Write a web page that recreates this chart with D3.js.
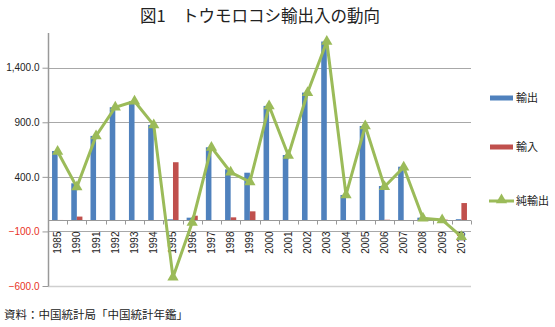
<!DOCTYPE html>
<html><head><meta charset="utf-8">
<script src="https://cdn.jsdelivr.net/npm/d3@7"></script>
<style>
html,body{margin:0;padding:0;background:#fff;}
svg{display:block;}
</style></head>
<body>
<svg id="chart" width="555" height="327"></svg>
<script>
const categories = ["1985","1990","1991","1992","1993","1994","1995","1996","1997","1998","1999","2000","2001","2002","2003","2004","2005","2006","2007","2008","2009","2010"];
const exportsData = [637, 341, 775, 1038, 1093, 876, 11, 26, 671, 469, 438, 1050, 600, 1172, 1640, 234, 866, 316, 493, 26, 13, 12];
const importsData = [5, 36, 1, 0, 1, 1, 534, 44, 1, 29, 84, 1, 4, 1, 0, 0, 0, 7, 4, 5, 8, 160];
const netExports = [632, 306, 774, 1038, 1093, 875, -520, -18, 670, 442, 354, 1049, 596, 1171, 1640, 234, 866, 309, 489, 21, 5, -148];
const yTicks = [-600, -100, 400, 900, 1400];
const seriesNames = ["輸出", "輸入", "純輸出"];
const colors = ["#4F81BD", "#C0504D", "#9BBB59"];
const titleText = "図1　トウモロコシ輸出入の動向";
const sourceText = "資料：中国統計局「中国統計年鑑」";

(function () {
const svg = d3.select("#chart");
const jp = "'Noto Sans CJK JP', sans-serif";
const num = "'Liberation Sans', Arial, sans-serif";

const pl = 48, pr = 471, pt = 33, pb = 286;
const y = d3.scaleLinear().domain([-600, 1718]).range([pb, pt]);
const x = d3.scaleBand().domain(categories).range([pl, pr]).padding(0);
const bw = x.bandwidth();
const xi = d3.scaleBand().domain([0, 1]).range([bw * 0.21, bw * 0.79]).padding(0);

// title
svg.append("text").attr("x", 260).attr("y", 22).attr("text-anchor", "middle")
  .attr("font-family", jp).attr("font-size", 16.5).attr("fill", "#222").text(titleText);

// gridlines
svg.append("g").selectAll("line").data(yTicks).join("line")
  .attr("x1", pl).attr("x2", pr)
  .attr("y1", d => Math.round(y(d)) + 0.5).attr("y2", d => Math.round(y(d)) + 0.5)
  .attr("stroke", d => d === -600 ? "#cfcfcf" : "#a8a8a8")
  .attr("stroke-width", d => d === -600 ? 1.6 : 1);

// y axis
const yAxis = d3.axisLeft(y).tickValues(yTicks).tickSize(6).tickPadding(3)
  .tickFormat(d => d3.format(",.1f")(d));
const gy = svg.append("g").attr("transform", `translate(${pl + 0.5},0)`).call(yAxis);
gy.select(".domain").attr("stroke", "#999").attr("stroke-width", 1.5).attr("d", `M0,${pt}V${pb}`);
gy.selectAll(".tick line").attr("stroke", "#999");
gy.selectAll(".tick text").attr("font-family", num).attr("font-size", 10)
  .attr("fill", d => d < 0 ? "#e8321e" : "#222");

// bars
const bars = svg.append("g");
const bar = (data, i) => bars.append("g").selectAll("rect").data(data).join("rect")
  .attr("x", (d, j) => x(categories[j]) + xi(i))
  .attr("width", xi.bandwidth())
  .attr("y", d => y(Math.max(0, d)))
  .attr("height", d => Math.abs(y(d) - y(0)))
  .attr("fill", colors[i]);
bar(exportsData, 0);
bar(importsData, 1);

// category axis at zero
const xAxis = d3.axisBottom(x).tickSize(0).tickPadding(0);
const gx = svg.append("g").attr("transform", `translate(0,${y(0)})`).call(xAxis);
gx.select(".domain").attr("stroke", "#999").attr("stroke-width", 1.2).attr("d", `M${pl},0H${pr}`);
gx.selectAll(".tick text")
  .attr("font-family", num).attr("font-size", 10).attr("fill", "#222")
  .attr("transform", "rotate(-90)").attr("text-anchor", "end")
  .attr("x", -11).attr("y", 0).attr("dy", "0.35em");
gx.append("g").selectAll("line").data(categories.concat(["end"])).join("line")
  .attr("x1", (d, j) => Math.round(pl + j * bw) + 0.5).attr("x2", (d, j) => Math.round(pl + j * bw) + 0.5)
  .attr("y1", 0).attr("y2", 4).attr("stroke", "#999");

// net export line
const line = d3.line().x((d, j) => x(categories[j]) + bw / 2).y(d => y(d));
svg.append("path").datum(netExports).attr("d", line)
  .attr("fill", "none").attr("stroke", colors[2]).attr("stroke-width", 3).attr("stroke-linejoin", "miter");
const tri = d3.symbol().type(d3.symbolTriangle).size(55);
svg.append("g").selectAll("path").data(netExports).join("path")
  .attr("d", tri)
  .attr("transform", (d, j) => `translate(${x(categories[j]) + bw / 2},${y(d)})`)
  .attr("fill", colors[2]);

// legend
const lg = svg.append("g");
const legY = [98, 147, 201];
[0, 1].forEach(i => {
  lg.append("rect").attr("x", 490).attr("y", legY[i] - 2.5).attr("width", 23).attr("height", 5).attr("fill", colors[i]);
});
lg.append("line").attr("x1", 489).attr("x2", 514).attr("y1", legY[2]).attr("y2", legY[2])
  .attr("stroke", colors[2]).attr("stroke-width", 3);
lg.append("path").attr("d", tri).attr("transform", `translate(501.5,${legY[2] - 1})`).attr("fill", colors[2]);
seriesNames.forEach((s, i) => {
  lg.append("text").attr("x", 516).attr("y", legY[i]).attr("dy", "0.36em")
    .attr("font-family", jp).attr("font-size", 11).attr("fill", "#222").text(s);
});

// source
svg.append("text").attr("x", 4).attr("y", 319).attr("font-family", jp).attr("font-size", 11.5)
  .attr("fill", "#222").text(sourceText);
})();
</script>
</body></html>
